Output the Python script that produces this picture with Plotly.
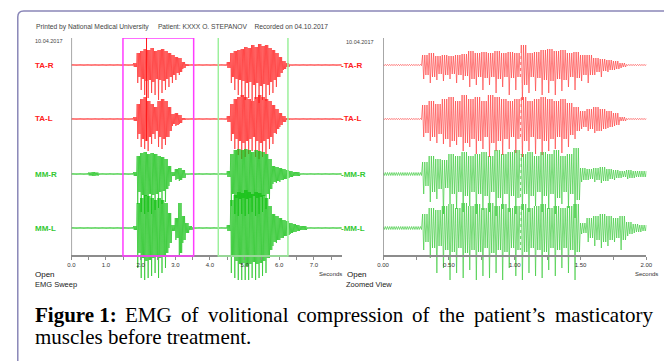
import numpy as np
import plotly.graph_objects as go

# ---------------- data ----------------
channels = ["TA-R", "TA-L", "MM-R", "MM-L"]
baseline_offsets = [191, 137, 82, 28]          # display units above the time axis

sweep_step = 0.1
sweep_time = [round(i * sweep_step, 2) for i in range(79)]     # 0.0 .. 7.8 s
sweep_ticks = [0, 1, 2, 3, 4, 5, 6, 7]
sweep_tick_labels = ["0.0", "1.0", "2.0", "3.0", "4.0", "5.0", "6.0", "7.0"]
sweep_minor_ticks = [0.5, 1.5, 2.5, 3.5, 4.5, 5.5, 6.5, 7.5]

sweep_tar_up = [0.6,0.6,0.6,0.6,0.6,0.6,0.6,0.6,0.6,0.6,
                0.6,0.6,0.6,0.6,0.6,0.6,0.6,0.6,2,12,
                14,16,15,17,14,15,16,14,12,10,
                8,7,3,1,0.6,0.6,0.6,0.6,0.6,0.6,
                0.6,0.6,0.6,0.6,0.6,3,12,14,15,16,
                18,17,20,18,21,19,20,17,15,12,
                8,4,2,0.6,0.6,0.6,0.6,0.6,0.6,0.6,
                0.6,0.6,0.6,0.6,0.6,0.6,0.6,0.6,0.6]
sweep_tar_dn = [0.6,0.6,0.6,0.6,0.6,0.6,0.6,0.6,0.6,0.6,
                0.6,0.6,0.6,0.6,0.6,0.6,0.6,0.6,2,18,
                25,30,33,28,30,35,28,25,22,18,
                15,10,4,1,0.6,0.6,0.6,0.6,0.6,0.6,
                0.6,0.6,0.6,0.6,0.6,3,18,25,30,32,
                35,33,36,34,38,35,36,30,28,22,
                12,5,2,0.6,0.6,0.6,0.6,0.6,0.6,0.6,
                0.6,0.6,0.6,0.6,0.6,0.6,0.6,0.6,0.6]
sweep_tal_up = [0.6,0.6,0.6,0.6,0.6,0.6,0.6,0.6,0.6,0.6,
                0.6,0.6,0.6,0.6,0.6,0.6,0.6,0.6,2,15,
                20,22,18,15,12,18,20,18,12,5,
                6,4,1,0.6,0.6,0.6,0.6,0.6,0.6,0.6,
                0.6,0.6,0.6,0.6,0.6,3,15,20,22,24,
                22,20,18,22,24,22,20,18,14,10,
                6,3,1,0.6,0.6,0.6,0.6,0.6,0.6,0.6,
                0.6,0.6,0.6,0.6,0.6,0.6,0.6,0.6,0.6]
sweep_tal_dn = [0.6,0.6,0.6,0.6,0.6,0.6,0.6,0.6,0.6,0.6,
                0.6,0.6,0.6,0.6,0.6,0.6,0.6,0.6,2,20,
                28,30,32,25,20,28,30,26,18,7,
                7,5,1,0.6,0.6,0.6,0.6,0.6,0.6,0.6,
                0.6,0.6,0.6,0.6,0.6,3,22,30,36,40,
                38,35,32,38,40,38,35,30,25,15,
                8,3,1,0.6,0.6,0.6,0.6,0.6,0.6,0.6,
                0.6,0.6,0.6,0.6,0.6,0.6,0.6,0.6,0.6]
sweep_mmr_up = [0.6,0.6,0.6,0.6,0.6,1.5,2,1.5,0.6,0.6,
                0.6,0.6,0.6,0.6,0.6,0.6,0.6,0.6,2,18,
                21,22,20,21,20,18,17,15,8,2,
                5,6,4,0.6,0.6,0.6,0.6,0.6,0.6,0.6,
                0.6,0.6,0.6,0.6,0.6,3,20,24,25,24,
                25,24,22,24,23,22,20,15,8,7,
                6,5,4,3,2,2,0.6,0.6,0.6,0.6,
                0.6,0.6,0.6,0.6,0.6,0.6,0.6,0.6,0.6]
sweep_mmr_dn = [0.6,0.6,0.6,0.6,0.6,1.5,2,1.5,0.6,0.6,
                0.6,0.6,0.6,0.6,0.6,0.6,0.6,0.6,2,30,
                38,40,38,40,36,34,30,28,12,2,
                6,7,4,0.6,0.6,0.6,0.6,0.6,0.6,0.6,
                0.6,0.6,0.6,0.6,0.6,3,32,40,42,40,
                42,40,38,42,40,38,35,25,10,9,
                8,6,5,3,2,2,0.6,0.6,0.6,0.6,
                0.6,0.6,0.6,0.6,0.6,0.6,0.6,0.6,0.6]
sweep_mml_up = [0.6,0.6,0.6,0.6,0.6,0.6,0.6,0.6,0.6,0.6,
                0.6,0.6,0.6,0.6,0.6,0.6,0.6,0.6,2,25,
                30,33,32,30,28,30,28,25,15,3,
                10,25,12,5,2,0.6,0.6,0.6,0.6,0.6,
                0.6,0.6,0.6,0.6,0.6,3,28,33,36,35,
                38,36,34,36,35,33,30,22,14,12,
                10,8,7,5,4,3,2,2,0.6,0.6,
                0.6,0.6,0.6,0.6,0.6,0.6,0.6,0.6,0.6]
sweep_mml_dn = [0.6,0.6,0.6,0.6,0.6,0.6,0.6,0.6,0.6,0.6,
                0.6,0.6,0.6,0.6,0.6,0.6,0.6,0.6,2,40,
                50,52,50,48,45,50,45,40,20,3,
                12,28,15,5,2,0.6,0.6,0.6,0.6,0.6,
                0.6,0.6,0.6,0.6,0.6,3,45,50,52,52,
                52,52,50,52,50,48,45,30,18,15,
                12,10,8,6,4,3,2,2,0.6,0.6,
                0.6,0.6,0.6,0.6,0.6,0.6,0.6,0.6,0.6]

zoom_step = 0.05
zoom_time = [round(i * zoom_step, 3) for i in range(41)]       # 0.00 .. 2.00 s
zoom_ticks = [0, 0.5, 1.0, 1.5, 2.0]
zoom_tick_labels = ["0.00", "0.50", "1.00", "1.50", "2.00"]
zoom_minor_ticks = [0.25, 0.75, 1.25, 1.75]

zoom_tar_up = [0.6,0.6,0.6,0.6,0.6,0.6,10,12,9,10,
               9,10,11,14,12,13,12,14,12,13,
               12,20,12,13,15,16,14,15,12,13,
               10,10,7,6,5,4,2,0.6,0.6,0.6,
               0.6]
zoom_tar_dn = [0.6,0.6,0.6,0.6,0.6,0.6,14,18,15,16,
               14,18,15,22,20,25,20,28,22,30,
               25,35,28,26,30,28,30,26,22,25,
               16,18,10,12,7,5,3,0.6,0.6,0.6,
               0.6]
zoom_tal_up = [0.6,0.6,0.6,0.6,0.6,0.6,14,18,15,20,
               22,18,24,20,22,18,24,22,20,18,
               20,22,18,20,22,20,18,20,16,12,
               8,10,12,10,8,6,2,0.6,0.6,0.6,
               0.6]
zoom_tal_dn = [0.6,0.6,0.6,0.6,0.6,0.6,18,22,24,25,
               28,26,32,28,35,30,38,32,36,30,
               34,38,32,35,36,32,30,34,28,20,
               10,12,14,12,9,7,2,0.6,0.6,0.6,
               0.6]
zoom_mmr_up = [1.5,1.5,1.5,1.5,1.5,1.5,12,18,15,14,
               20,18,22,18,20,22,18,24,20,22,
               24,20,22,18,22,20,24,18,20,26,
               6,5,6,7,5,4,3,4,3,3,
               3]
zoom_mmr_dn = [1.5,1.5,1.5,1.5,1.5,1.5,20,28,25,40,
               30,35,38,32,40,36,38,42,35,38,
               40,36,38,32,38,35,40,30,34,44,
               8,6,8,9,7,6,4,5,4,3,
               3]
zoom_mml_up = [1.5,1.5,1.5,1.5,1.5,1.5,14,20,18,22,
               24,20,25,22,24,20,25,22,24,20,
               22,24,20,22,24,20,22,20,22,24,
               5,10,12,14,12,10,12,6,4,3,
               3]
zoom_mml_dn = [1.5,1.5,1.5,1.5,1.5,1.5,22,30,45,40,
               52,45,50,42,52,48,50,45,52,40,
               48,52,45,48,50,42,48,40,45,52,
               6,14,18,20,18,14,22,8,5,4,
               3]

sweep_window = [1.49, 3.53]      # magenta selection (s)
zoom_window = [4.24, 6.25]       # green selection (s)
sweep_cursor = 2.17
zoom_cursor = 1.045

caption_line1 = ["Figure 1:", "EMG", "of", "volitional", "compression", "of",
                 "the", "patient’s", "masticatory"]
caption_line2 = "muscles before treatment."

# ---------------- styling ----------------
W, H = 670, 361
RED = "#ff1a1a"
GREEN = "#12c012"
colors = [RED, RED, GREEN, GREEN]
AXIS = "#8c8c8c"
SANS = "Liberation Sans"
SERIF = "Liberation Serif"


def px(x):
    return x / W


def py(y):
    return 1 - y / H


def zigzag(t, up, dn, off, step, n_osc):
    """Dense oscillation inside the read envelope: the first stroke of each
    sample reaches the full (upper, lower) envelope, the others the core."""
    xs, ys = [], []
    for ti, u, d in zip(t, up, dn):
        core = min(u, d)
        for k in range(n_osc):
            x0 = ti + step * k / n_osc
            xs += [x0, x0 + step / (2 * n_osc)]
            ys += [off + u, off - (d if k == 0 else core)]
    return xs, ys


fig = go.Figure()

sweep_sets = [(sweep_tar_up, sweep_tar_dn), (sweep_tal_up, sweep_tal_dn),
              (sweep_mmr_up, sweep_mmr_dn), (sweep_mml_up, sweep_mml_dn)]
zoom_sets = [(zoom_tar_up, zoom_tar_dn), (zoom_tal_up, zoom_tal_dn),
             (zoom_mmr_up, zoom_mmr_dn), (zoom_mml_up, zoom_mml_dn)]

for i, name in enumerate(channels):
    xs, ys = zigzag(sweep_time, sweep_sets[i][0], sweep_sets[i][1],
                    baseline_offsets[i], sweep_step, 3)
    fig.add_trace(go.Scatter(x=xs, y=ys, mode="lines", name=name,
                             line=dict(color=colors[i], width=0.8),
                             opacity=0.85, xaxis="x", yaxis="y",
                             hoverinfo="skip"))
for i, name in enumerate(channels):
    xs, ys = zigzag(zoom_time, zoom_sets[i][0], zoom_sets[i][1],
                    baseline_offsets[i], zoom_step, 3)
    fig.add_trace(go.Scatter(x=xs, y=ys, mode="lines", name=name,
                             line=dict(color=colors[i], width=0.7),
                             opacity=0.8, xaxis="x2", yaxis="y2",
                             hoverinfo="skip"))

y_dom = [py(283), py(38)]
axis_pos = py(256)
tickfont = dict(family=SANS, size=6, color="#333333")

common_x = dict(anchor="free", position=axis_pos, showline=True,
                linecolor=AXIS, linewidth=1.5, ticks="outside", ticklen=3,
                tickcolor=AXIS, tickwidth=1, tickfont=tickfont,
                showgrid=False, zeroline=False, tickmode="array")

fig.update_layout(
    width=W, height=H, margin=dict(l=0, r=0, t=0, b=0),
    paper_bgcolor="white", plot_bgcolor="rgba(0,0,0,0)", showlegend=False,
    xaxis=dict(domain=[px(66.5), px(341.8)], range=[0, 7.8],
               tickvals=sweep_ticks, ticktext=sweep_tick_labels,
               minor=dict(tickmode="array", tickvals=sweep_minor_ticks,
                          ticks="outside", ticklen=3, tickcolor=AXIS),
               **common_x),
    yaxis=dict(domain=y_dom, range=[-27, 218], visible=False),
    xaxis2=dict(domain=[px(384), px(652)], range=[0, 2.0],
                tickvals=zoom_ticks, ticktext=zoom_tick_labels,
                minor=dict(tickmode="array", tickvals=zoom_minor_ticks,
                           ticks="outside", ticklen=3, tickcolor=AXIS),
                **common_x),
    yaxis2=dict(domain=y_dom, range=[-27, 218], visible=False, anchor="x2"),
)

shapes = []
for xr, yr in (("x", "y"), ("x2", "y2")):
    shapes.append(dict(type="line", xref=xr, yref=yr, x0=0, x1=0, y0=0, y1=218,
                       line=dict(color=AXIS, width=1.5)))
shapes.append(dict(type="rect", xref="x", yref="y", x0=sweep_window[0],
                   x1=sweep_window[1], y0=0, y1=218,
                   line=dict(color="#ff3cff", width=1.5)))
g0, g1 = zoom_window
shapes.append(dict(type="path", xref="x", yref="y",
                   path=f"M {g0},218 L {g0},0 L {g1},0 L {g1},218",
                   line=dict(color="#9cf09c", width=1.5)))
shapes.append(dict(type="line", xref="x", yref="y", x0=sweep_cursor,
                   x1=sweep_cursor, y0=115, y1=218,
                   line=dict(color=RED, width=1)))
shapes.append(dict(type="line", xref="x2", yref="y2", x0=zoom_cursor,
                   x1=zoom_cursor, y0=8, y1=205,
                   line=dict(color="white", width=1, dash="dot")))
fx, fy = px(12), py(11)
shapes.append(dict(type="path", xref="paper", yref="paper",
                   path=(f"M {fx},0 L {fx},{py(17)} Q {fx},{fy} {px(18)},{fy} "
                         f"L 1,{fy}"),
                   line=dict(color="#8a87b8", width=1.5)))
fig.update_layout(shapes=shapes)

ann = []


def text(x, y, s, size, color="#333333", anchor="left", family=SANS):
    ann.append(dict(xref="paper", yref="paper", x=px(x), y=py(y), text=s,
                    showarrow=False, xanchor=anchor, yanchor="middle",
                    font=dict(family=family, size=size, color=color)))


text(29, 27, "Printed by National Medical University     Patient: KXXX O. STEPANOV    Recorded on 04.10.2017",
     6.7, "#444444")
text(28, 41, "10.04.2017", 5.5, "#444444")
text(344, 42, "10.04.2017", 5.5, "#444444")

label_y = [65, 119, 174, 228]
for i, name in enumerate(channels):
    c = "#ff2020" if i < 2 else "#33c833"
    text(27, label_y[i], f"<b>{name}</b>", 8, c)
    text(339, label_y[i], f"<b>-{name}</b>", 8, c)

text(27, 274, "Open", 8, "#111111")
text(27, 284, "EMG Sweep", 7.5, "#222222")
text(344, 274, "Seconds", 6, "#333333", anchor="right")
text(345, 274, "Open", 8, "#111111")
text(344, 284, "Zoomed View", 7.5, "#222222")
text(638, 274, "Seconds", 6, "#333333")

# justified caption (Times metrics, Liberation Serif is metric compatible)
REG = {"E": .611, "M": .889, "G": .722, "o": .5, "f": .333, "v": .5,
       "l": .278, "i": .278, "t": .278, "n": .5, "a": .444, "c": .444,
       "m": .778, "p": .5, "r": .333, "e": .444, "s": .389, "h": .5,
       "’": .333, "y": .5}
BOLD = {"F": .611, "i": .278, "g": .5, "u": .556, "r": .444, "e": .444,
        "1": .5, ":": .333, " ": .25}
CAP = 21
words = caption_line1
widths = []
for k, w in enumerate(words):
    table = BOLD if k == 0 else REG
    widths.append(sum(table.get(ch, .5) for ch in w) * CAP)
left, right = 27, 655
gap = (right - left - sum(widths)) / (len(words) - 1)
xpos = left
for k, w in enumerate(words):
    s = f"<b>{w}</b>" if k == 0 else w
    text(xpos, 315, s, CAP, "black", family=SERIF)
    xpos += widths[k] + gap
text(27, 337, caption_line2, CAP, "black", family=SERIF)

fig.update_layout(annotations=ann)
fig.write_html("out.html", config={"displayModeBar": False},
               post_script="document.body.style.margin='0px';")
